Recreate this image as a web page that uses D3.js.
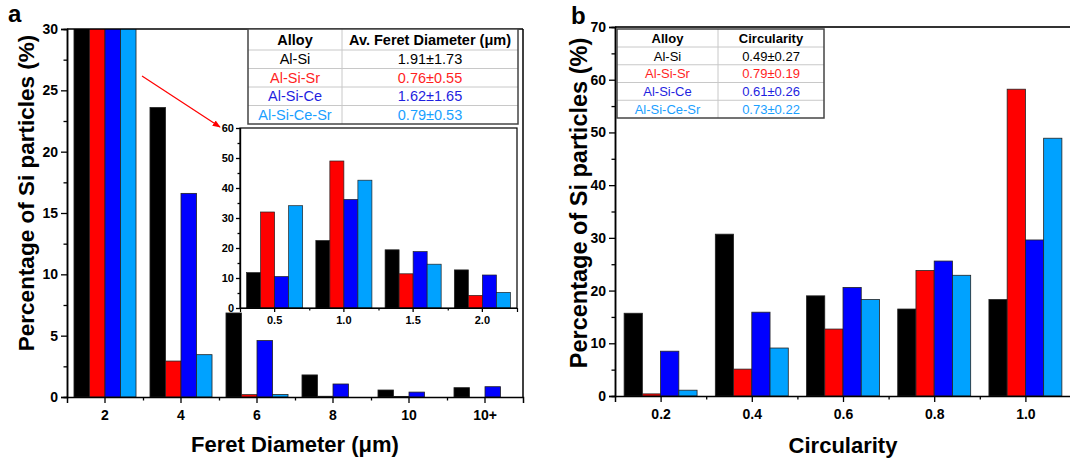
<!DOCTYPE html>
<html><head><meta charset="utf-8">
<script src="https://cdn.jsdelivr.net/npm/d3@7"></script>
<style>
body{margin:0;background:#fff}
svg{font-family:Arial,"Liberation Sans",sans-serif;display:block}
</style>
</head><body>
<svg id="c" width="1070" height="464"></svg>
<script>
// ---------- data ----------
const series = ["Al-Si", "Al-Si-Sr", "Al-Si-Ce", "Al-Si-Ce-Sr"];
const barColors = ["#000000", "#ff0000", "#0000ff", "#00a2ff"];
const textColors = ["#000000", "#ff1f1f", "#1f1fe0", "#1aa0ff"];

const feretCats = ["2", "4", "6", "8", "10", "10+"];
const feretAlSi     = [66.6, 23.6, 6.85, 1.8, 0.57, 0.76];
const feretAlSiSr   = [96.7, 2.93, 0.19, 0.06, 0.05, 0.0];
const feretAlSiCe   = [76.4, 16.6, 4.6, 1.06, 0.4, 0.84];
const feretAlSiCeSr = [96.4, 3.45, 0.2, 0.0, 0.0, 0.0];
const feretTicks = [0, 5, 10, 15, 20, 25, 30];
const feretMinor = [2.5, 7.5, 12.5, 17.5, 22.5, 27.5];

const insetCats = ["0.5", "1.0", "1.5", "2.0"];
const insetAlSi     = [11.8, 22.5, 19.4, 12.7];
const insetAlSiSr   = [32.0, 49.0, 11.4, 4.2];
const insetAlSiCe   = [10.5, 36.2, 18.8, 11.0];
const insetAlSiCeSr = [34.1, 42.6, 14.6, 5.2];
const insetTicks = [0, 10, 20, 30, 40, 50, 60];
const insetMinor = [5, 15, 25, 35, 45, 55];

const circCats = [0.2, 0.4, 0.6, 0.8, 1.0];
const circMinor = [0.3, 0.5, 0.7, 0.9];
const circAlSi     = [15.7, 30.7, 19.0, 16.5, 18.3];
const circAlSiSr   = [0.4, 5.1, 12.7, 23.8, 58.2];
const circAlSiCe   = [8.5, 15.9, 20.6, 25.6, 29.6];
const circAlSiCeSr = [1.1, 9.1, 18.3, 22.9, 48.9];
const circTicks = [0, 10, 20, 30, 40, 50, 60, 70];
const circMinorY = [5, 15, 25, 35, 45, 55, 65];

const tableFeretHeader = ["Alloy", "Av. Feret Diameter (\u03bcm)"];
const tableFeret = ["1.91\u00b11.73", "0.76\u00b10.55", "1.62\u00b11.65", "0.79\u00b10.53"];
const tableCircHeader = ["Alloy", "Circularity"];
const tableCirc = ["0.49\u00b10.27", "0.79\u00b10.19", "0.61\u00b10.26", "0.73\u00b10.22"];

// ---------- helpers ----------
const svg = d3.select("#c");

function styleAxis(g, fs) {
  g.select(".domain").attr("stroke", "#000").attr("stroke-width", 1.5);
  g.selectAll(".tick line").attr("stroke", "#000").attr("stroke-width", 1.3);
  g.selectAll(".tick text").attr("font-weight", "bold").attr("font-size", fs).attr("fill", "#000");
}

function drawTable(x, y, colW, headH, rowH, header, values, fsH, fsR) {
  const g = svg.append("g").attr("transform", `translate(${x},${y})`);
  const W = colW[0] + colW[1];
  const H = headH + rowH * values.length;
  g.append("rect").attr("width", W).attr("height", H).attr("fill", "#fff");
  for (let i = 0; i < values.length; i++) {
    const yy = headH + rowH * i;
    g.append("line").attr("x1", 0).attr("x2", W).attr("y1", yy).attr("y2", yy)
      .attr("stroke", "#c8c8c8").attr("stroke-width", 1);
  }
  g.append("line").attr("x1", colW[0]).attr("x2", colW[0]).attr("y1", 0).attr("y2", H)
    .attr("stroke", "#c8c8c8").attr("stroke-width", 1);
  g.append("rect").attr("width", W).attr("height", H).attr("fill", "none")
    .attr("stroke", "#444").attr("stroke-width", 1.5);
  header.forEach((h, j) => {
    g.append("text").attr("x", j === 0 ? colW[0] / 2 : colW[0] + colW[1] / 2)
      .attr("y", headH / 2).attr("dy", "0.36em").attr("text-anchor", "middle")
      .attr("font-weight", "bold").attr("font-size", fsH).text(h);
  });
  values.forEach((v, i) => {
    const cy = headH + rowH * i + rowH / 2;
    g.append("text").attr("x", colW[0] / 2).attr("y", cy).attr("dy", "0.36em")
      .attr("text-anchor", "middle").attr("font-size", fsR).attr("fill", textColors[i]).text(series[i]);
    g.append("text").attr("x", colW[0] + colW[1] / 2).attr("y", cy).attr("dy", "0.36em")
      .attr("text-anchor", "middle").attr("font-size", fsR).attr("fill", textColors[i]).text(v);
  });
}

// ---------- panel a ----------
const A = {l: 67, r: 523, t: 29, b: 397};
const feretData = [feretAlSi, feretAlSiSr, feretAlSiCe, feretAlSiCeSr];
const xa = d3.scaleBand().domain(feretCats).range([A.l, A.r]).padding(0);
const xa1 = d3.scaleBand().domain(series).range([0, xa.bandwidth()]).paddingInner(0).paddingOuter(0.45);
const ya = d3.scaleLinear().domain([0, 30]).range([A.b, A.t]);

svg.append("clipPath").attr("id", "clipA").append("rect")
  .attr("x", A.l).attr("y", A.t).attr("width", A.r - A.l).attr("height", A.b - A.t);

const barsA = svg.append("g").attr("clip-path", "url(#clipA)");
feretCats.forEach((c, ci) => {
  series.forEach((s, si) => {
    const v = feretData[si][ci];
    barsA.append("rect")
      .attr("x", xa(c) + xa1(s)).attr("width", xa1.bandwidth())
      .attr("y", ya(v)).attr("height", Math.max(0, ya(0) - ya(v)))
      .attr("fill", barColors[si]).attr("stroke", "#222").attr("stroke-width", 0.8);
  });
});

svg.append("line").attr("x1", A.l).attr("x2", A.r).attr("y1", A.t).attr("y2", A.t).attr("stroke", "#000").attr("stroke-width", 1.5);
svg.append("line").attr("x1", A.r).attr("x2", A.r).attr("y1", A.t).attr("y2", A.b).attr("stroke", "#000").attr("stroke-width", 1.5);

const gyA = svg.append("g").attr("transform", `translate(${A.l},0)`)
  .call(d3.axisLeft(ya).tickValues(feretTicks).tickSize(6).tickPadding(3).tickFormat(d3.format("d")));
styleAxis(gyA, 14);
const gyAm = svg.append("g").attr("transform", `translate(${A.l},0)`)
  .call(d3.axisLeft(ya).tickValues(feretMinor).tickSize(3.5).tickFormat(""));
styleAxis(gyAm, 14);

const gxA = svg.append("g").attr("transform", `translate(0,${A.b})`)
  .call(d3.axisBottom(xa).tickSize(6).tickPadding(7));
styleAxis(gxA, 14);
const xaBounds = feretCats.slice(1).map(c => xa(c));
const gxAm = svg.append("g").attr("transform", `translate(0,${A.b})`)
  .call(d3.axisBottom(d3.scaleIdentity()).tickValues(xaBounds).tickSize(3.5).tickFormat(""));
gxAm.select(".domain").remove();
gxAm.selectAll(".tick line").attr("stroke", "#000").attr("stroke-width", 1.3);

svg.append("text").attr("x", 8).attr("y", 22).attr("font-size", 24).attr("font-weight", "bold").text("a");
svg.append("text").attr("transform", `translate(34,193) rotate(-90)`).attr("text-anchor", "middle")
  .attr("font-size", 22.5).attr("font-weight", "bold").text("Percentage of Si particles (%)");
svg.append("text").attr("x", 295).attr("y", 452).attr("text-anchor", "middle")
  .attr("font-size", 22).attr("font-weight", "bold").text("Feret Diameter (\u03bcm)");

drawTable(248, 29, [94, 176], 21, 18.5, tableFeretHeader, tableFeret, 14.5, 14.5);

// ---------- inset ----------
const I = {l: 240, r: 517, t: 128, b: 308};
const insetData = [insetAlSi, insetAlSiSr, insetAlSiCe, insetAlSiCeSr];
const xi = d3.scaleBand().domain(insetCats).range([I.l, I.r]).padding(0);
const xi1 = d3.scaleBand().domain(series).range([0, xi.bandwidth()]).paddingInner(0).paddingOuter(0.47);
const yi = d3.scaleLinear().domain([0, 60]).range([I.b, I.t]);

svg.append("rect").attr("x", I.l).attr("y", I.t).attr("width", I.r - I.l).attr("height", I.b - I.t).attr("fill", "#fff");
insetCats.forEach((c, ci) => {
  series.forEach((s, si) => {
    const v = insetData[si][ci];
    svg.append("rect")
      .attr("x", xi(c) + xi1(s)).attr("width", xi1.bandwidth())
      .attr("y", yi(v)).attr("height", yi(0) - yi(v))
      .attr("fill", barColors[si]).attr("stroke", "#222").attr("stroke-width", 0.7);
  });
});
svg.append("rect").attr("x", I.l).attr("y", I.t).attr("width", I.r - I.l).attr("height", I.b - I.t)
  .attr("fill", "none").attr("stroke", "#000").attr("stroke-width", 1.2);
const gyI = svg.append("g").attr("transform", `translate(${I.l},0)`)
  .call(d3.axisLeft(yi).tickValues(insetTicks).tickSize(4).tickPadding(2).tickFormat(d3.format("d")));
styleAxis(gyI, 11);
gyI.select(".domain").attr("stroke-width", 1.2);
const gyIm = svg.append("g").attr("transform", `translate(${I.l},0)`)
  .call(d3.axisLeft(yi).tickValues(insetMinor).tickSize(2.5).tickFormat(""));
styleAxis(gyIm, 11);
gyIm.select(".domain").attr("stroke-width", 1.2);
const gxI = svg.append("g").attr("transform", `translate(0,${I.b})`)
  .call(d3.axisBottom(xi).tickSize(4).tickPadding(4));
styleAxis(gxI, 11);
gxI.select(".domain").attr("stroke-width", 1.2);
const xiBounds = insetCats.slice(1).map(c => xi(c));
const gxIm = svg.append("g").attr("transform", `translate(0,${I.b})`)
  .call(d3.axisBottom(d3.scaleIdentity()).tickValues(xiBounds).tickSize(2.5).tickFormat(""));
gxIm.select(".domain").remove();
gxIm.selectAll(".tick line").attr("stroke", "#000").attr("stroke-width", 1.2);

// arrow
const defs = svg.append("defs");
defs.append("marker").attr("id", "arr").attr("viewBox", "0 0 10 10").attr("refX", 9).attr("refY", 5)
  .attr("markerWidth", 8).attr("markerHeight", 8).attr("orient", "auto-start-reverse")
  .attr("markerUnits", "userSpaceOnUse")
  .append("path").attr("d", "M0,1 L10,5 L0,9 z").attr("fill", "#ff0000");
svg.append("line").attr("x1", 142).attr("y1", 76).attr("x2", 220).attr("y2", 127)
  .attr("stroke", "#ff0000").attr("stroke-width", 1.2).attr("marker-end", "url(#arr)");

// ---------- panel b ----------
const B = {l: 615, r: 1071, t: 27, b: 396};
const circData = [circAlSi, circAlSiSr, circAlSiCe, circAlSiCeSr];
const xb = d3.scaleLinear().domain([0.1, 1.1]).range([B.l, B.r]);
const yb = d3.scaleLinear().domain([0, 70]).range([B.b, B.t]);
const barW = 0.04;

circCats.forEach((c, ci) => {
  series.forEach((s, si) => {
    const v = circData[si][ci];
    const x0 = xb(c - 2 * barW + si * barW);
    const x1 = xb(c - 2 * barW + (si + 1) * barW);
    svg.append("rect")
      .attr("x", x0).attr("width", x1 - x0)
      .attr("y", yb(v)).attr("height", yb(0) - yb(v))
      .attr("fill", barColors[si]).attr("stroke", "#222").attr("stroke-width", 0.8);
  });
});
svg.append("line").attr("x1", B.l).attr("x2", B.r).attr("y1", B.t).attr("y2", B.t).attr("stroke", "#333").attr("stroke-width", 2);

const gyB = svg.append("g").attr("transform", `translate(${B.l},0)`)
  .call(d3.axisLeft(yb).tickValues(circTicks).tickSize(6).tickPadding(3).tickFormat(d3.format("d")));
styleAxis(gyB, 14);
const gyBm = svg.append("g").attr("transform", `translate(${B.l},0)`)
  .call(d3.axisLeft(yb).tickValues(circMinorY).tickSize(3.5).tickFormat(""));
styleAxis(gyBm, 14);
const gxB = svg.append("g").attr("transform", `translate(0,${B.b})`)
  .call(d3.axisBottom(xb).tickValues(circCats).tickSize(6).tickPadding(7).tickFormat(d3.format(".1f")));
styleAxis(gxB, 14);
const gxBm = svg.append("g").attr("transform", `translate(0,${B.b})`)
  .call(d3.axisBottom(xb).tickValues(circMinor).tickSize(3.5).tickFormat(""));
gxBm.select(".domain").remove();
gxBm.selectAll(".tick line").attr("stroke", "#000").attr("stroke-width", 1.3);

svg.append("text").attr("x", 571).attr("y", 24).attr("font-size", 24).attr("font-weight", "bold").text("b");
svg.append("text").attr("transform", `translate(587,203) rotate(-90)`).attr("text-anchor", "middle")
  .attr("font-size", 23.5).attr("font-weight", "bold").text("Percentage of Si particles (%)");
svg.append("text").attr("x", 843).attr("y", 453).attr("text-anchor", "middle")
  .attr("font-size", 22).attr("font-weight", "bold").text("Circularity");

drawTable(617, 29, [101, 106], 18, 17.75, tableCircHeader, tableCirc, 13, 13);
</script>
</body></html>
